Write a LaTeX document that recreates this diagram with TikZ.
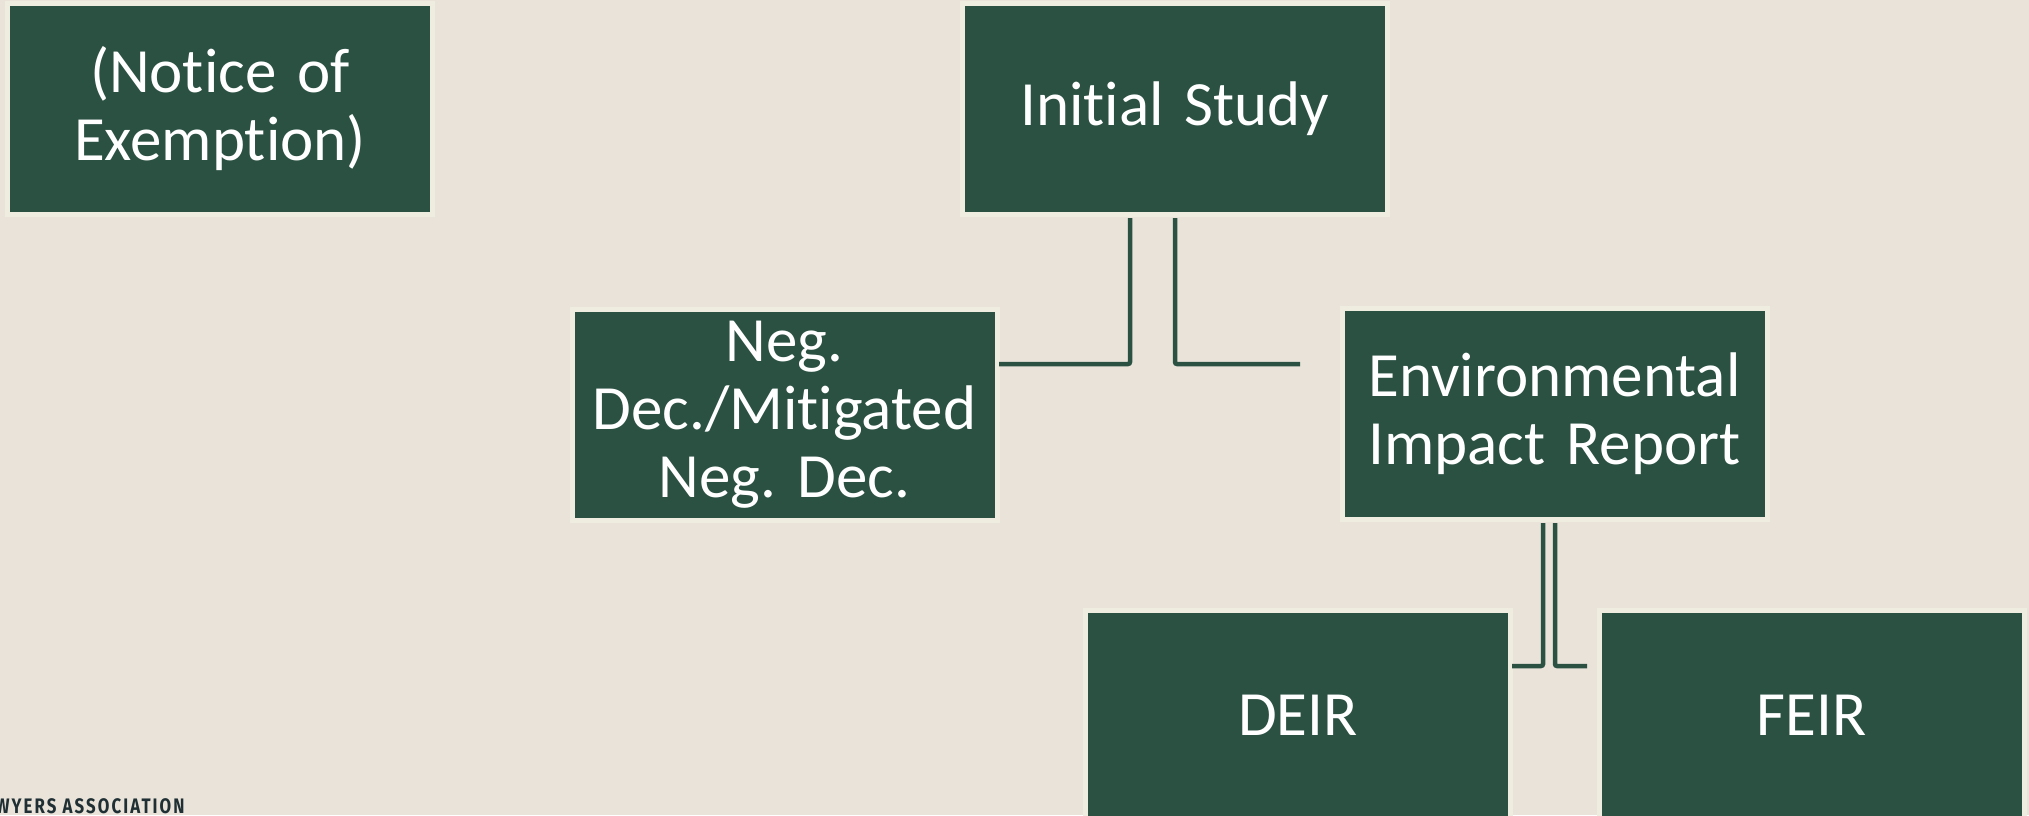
\documentclass[tikz,border=0pt]{standalone}
\usepackage{fontspec}
\setmainfont{Carlito}[Ligatures=NoCommon,WordSpace=0.8]
\newfontfamily\logofont[FakeStretch=0.8,LetterSpace=10]{Fira Sans}
\usetikzlibrary{calc}
\definecolor{bg}{HTML}{E9E3DA}
\definecolor{boxgreen}{HTML}{2B5143}
\definecolor{rim}{HTML}{EFECE0}
\definecolor{logo}{HTML}{1F2F33}
\begin{document}
\frenchspacing
\begin{tikzpicture}[x=0.5pt,y=-0.5pt,
 box/.style={rectangle, fill=boxgreen, draw=rim, line width=2.5pt,
   minimum width=212.5pt, minimum height=105.5pt, inner sep=0pt,
   text=white, align=center, font=\fontsize{31.5}{34}\selectfont, text width=205pt},
 link/.style={draw=boxgreen, line width=2.25pt, rounded corners=1pt}]
\useasboundingbox (0,0) rectangle (2029,815);
\fill[bg] (0,0) rectangle (2029,815);

\node[box] (notice)  at (220,109)     {(Notice of\\Exemption)};
\node[box] (initial) at (1175,109)    {Initial Study};
\node[box] (negdec)  at (784.5,414.5) {Neg.\\Dec./Mitigated\\Neg. Dec.};
\node[box] (eir)     at (1554.5,414)  {Environmental\\Impact Report};
\node[box] (deir)    at (1298,715.5)  {DEIR};
\node[box] (feir)    at (1811.5,715.5){FEIR};

\coordinate (isL)  at (1130,218);
\coordinate (isR)  at (1175,218);
\coordinate (ndR)  at (999,364);
\coordinate (eirL) at (1300,364);
\draw[link] (ndR) -| (isL);
\draw[link] (isR) |- (eirL);

\coordinate (eL) at (1543,523);
\coordinate (eR) at (1555,523);
\coordinate (dR) at (1512,666);
\coordinate (fL) at (1587,666);
\draw[link] (eL) |- (dR);
\draw[link] (eR) |- (fL);

\begin{scope}
\clip (0,0) rectangle (2029,815);
\node[anchor=base east, text=logo, inner sep=0pt,
  font=\logofont\bfseries\fontsize{10.5}{11}\selectfont] (logo) at (185,813) {LAWYERS ASSOCIATION};
\end{scope}
\end{tikzpicture}
\end{document}
